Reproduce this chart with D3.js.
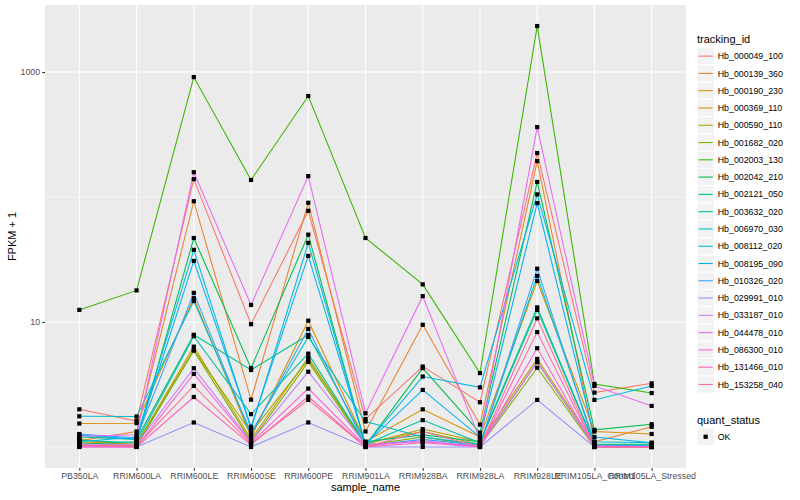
<!DOCTYPE html>
<html><head><meta charset="utf-8">
<script src="https://cdn.jsdelivr.net/npm/d3@7"></script>
<style>body{margin:0;background:#fff}svg{display:block}text{font-family:"Liberation Sans",Arial,Helvetica,sans-serif}</style>
</head><body><svg id="c" width="800" height="500"></svg>
<script>
const samples = ["PB350LA","RRIM600LA","RRIM600LE","RRIM600SE","RRIM600PE","RRIM901LA","RRIM928BA","RRIM928LA","RRIM928LE","RRIM105LA_Control","RRIM105LA_Stressed"];
const trackingIds = ["Hb_000049_100","Hb_000139_360","Hb_000190_230","Hb_000369_110","Hb_000590_110","Hb_001682_020","Hb_002003_130","Hb_002042_210","Hb_002121_050","Hb_003632_020","Hb_006970_030","Hb_008112_020","Hb_008195_090","Hb_010326_020","Hb_029991_010","Hb_033187_010","Hb_044478_010","Hb_086300_010","Hb_131466_010","Hb_153258_040"];
const colors = ["#F8766D","#EA8331","#D89000","#C09B00","#A3A500","#7CAE00","#39B600","#00BB4E","#00BF7D","#00C1A3","#00BFC4","#00BAE0","#00B0F6","#35A2FF","#9590FF","#C77CFF","#E76BF3","#FA62DB","#FF62BC","#FF6C91"];
// FPKM + 1 per tracking_id, in sample order
const v000049 = [2.0, 1.61, 139, 9.6, 77.6, 1.67, 4.4, 2.28, 225, 2.72, 3.23];
const v000139 = [1.12, 1.33, 92.6, 2.39, 90, 1.33, 9.5, 1.51, 194, 1.1, 1.45];
const v000190 = [1.54, 1.55, 15.5, 1.2, 10.25, 1.1, 2.0, 1.2, 21.3, 1.33, 1.27];
const v000369 = [1.1, 1.05, 6.35, 1.15, 5.18, 1.05, 1.39, 1.1, 5.06, 1.05, 1.02];
const v000590 = [1.15, 1.03, 5.97, 1.3, 5.0, 1.08, 1.33, 1.05, 4.76, 1.02, 1.0];
const v001682 = [1.08, 1.02, 5.9, 1.1, 4.79, 1.03, 1.2, 1.02, 4.3, 1.0, 1.0];
const v002003 = [12.5, 17.9, 912, 137, 643, 47, 20, 3.9, 2335, 3.19, 2.7];
const v002042 = [1.05, 1.1, 47, 4.27, 50, 1.03, 4.27, 1.3, 132, 1.37, 1.52];
const v002121 = [1.2, 1.15, 7.9, 4.13, 7.87, 1.1, 1.25, 1.1, 13.1, 1.05, 1.05];
const v003632 = [1.13, 1.08, 7.7, 1.83, 5.58, 1.05, 1.64, 1.08, 12.5, 1.04, 1.03];
const v006970 = [1.76, 1.75, 14.7, 1.3, 7.6, 1.6, 1.2, 1.05, 23.4, 1.1, 1.08];
const v008112 = [1.1, 1.2, 37.8, 1.4, 43, 1.04, 3.66, 3.0, 105, 2.38, 3.08];
const v008195 = [1.25, 1.15, 30.8, 1.45, 33.8, 1.05, 2.86, 1.2, 89.5, 1.2, 1.08];
const v010326 = [1.27, 1.18, 17.1, 1.25, 8.8, 1.02, 1.15, 1.03, 26.7, 1.03, 1.02];
const v029991 = [1.0, 1.0, 1.57, 1.0, 1.57, 1.0, 1.0, 1.0, 2.38, 1.0, 1.0];
const v033187 = [1.05, 1.05, 4.27, 1.1, 4.0, 1.05, 1.1, 1.02, 4.8, 1.02, 1.0];
const v044478 = [1.22, 1.25, 158, 13.7, 147, 1.86, 16.1, 1.15, 363, 3.08, 2.13];
const v086300 = [1.02, 1.0, 3.84, 1.08, 2.93, 1.02, 1.12, 1.0, 6.17, 1.0, 1.0];
const v131466 = [1.0, 1.0, 2.51, 1.04, 2.53, 1.0, 1.08, 1.0, 8.3, 1.0, 1.0];
const v153258 = [1.03, 1.02, 3.08, 1.06, 2.38, 1.0, 1.33, 1.0, 10.7, 1.0, 1.0];
const values = [v000049,v000139,v000190,v000369,v000590,v001682,v002003,v002042,v002121,v003632,v006970,v008112,v008195,v010326,v029991,v033187,v044478,v086300,v131466,v153258];
const yMajor = [10, 1000];
const yMinor = [1, 100];
const quantStatus = ["OK"];

const svg = d3.select("#c");
const P = {l:45, r:686, t:5, b:468};
const allV = values.flat();
const lmin = Math.log10(d3.min(allV)), lmax = Math.log10(d3.max(allV));
const pad = (lmax - lmin) * 0.05;
const y = d3.scaleLog().domain([10 ** (lmin - pad), 10 ** (lmax + pad)]).range([P.b, P.t]);
const x = d3.scalePoint().domain(samples).range([P.l, P.r]).padding(0.6);

svg.append("rect").attr("x",P.l).attr("y",P.t).attr("width",P.r-P.l).attr("height",P.b-P.t).attr("fill","#EBEBEB");
const g = svg.append("g");
g.selectAll(".mn").data(yMinor).join("line").attr("x1",P.l).attr("x2",P.r)
  .attr("y1",d=>y(d)).attr("y2",d=>y(d)).attr("stroke","#fff").attr("stroke-width",0.53);
g.selectAll(".mj").data(yMajor).join("line").attr("x1",P.l).attr("x2",P.r)
  .attr("y1",d=>y(d)).attr("y2",d=>y(d)).attr("stroke","#fff").attr("stroke-width",1.07);
g.selectAll(".vx").data(samples).join("line").attr("y1",P.t).attr("y2",P.b)
  .attr("x1",d=>x(d)).attr("x2",d=>x(d)).attr("stroke","#fff").attr("stroke-width",1.07);

const series = trackingIds.map((id,i)=>({id, color:colors[i], pts: samples.map((s,j)=>({s, v: values[i][j]}))}));
const line = d3.line().x(d=>x(d.s)).y(d=>y(d.v));
svg.append("g").selectAll("path").data(series).join("path")
  .attr("d",d=>line(d.pts)).attr("fill","none").attr("stroke",d=>d.color).attr("stroke-width",1.07);
svg.append("g").selectAll("rect").data(series.flatMap(d=>d.pts)).join("rect")
  .attr("x",d=>x(d.s)-2.1).attr("y",d=>y(d.v)-2.1).attr("width",4.2).attr("height",4.2).attr("fill","#000");

// Axes
const yAxis = d3.axisLeft(y).tickValues(yMajor).tickFormat(d3.format("d")).tickSize(2.75).tickPadding(2.2);
const ya = svg.append("g").attr("transform",`translate(${P.l},0)`).call(yAxis);
const xAxis = d3.axisBottom(x).tickSize(2.75).tickPadding(2.2);
const xa = svg.append("g").attr("transform",`translate(0,${P.b})`).call(xAxis);
[ya,xa].forEach(a=>{
  a.select(".domain").remove();
  a.selectAll(".tick line").attr("stroke","#333").attr("stroke-width",1.07);
  a.selectAll(".tick text").attr("fill","#4D4D4D").style("font-size","8.8px");
});
svg.append("text").attr("x",(P.l+P.r)/2).attr("y",491).attr("text-anchor","middle").style("font-size","11px").attr("fill","#000").text("sample_name");
svg.append("text").attr("transform",`translate(16,${(P.t+P.b)/2}) rotate(-90)`).attr("text-anchor","middle").style("font-size","11px").attr("fill","#000").text("FPKM + 1");

// Legend
const L = svg.append("g");
const lx = 697, ky0 = 47.5, kh = 17.28, kw = 17.28;
L.append("text").attr("x",lx).attr("y",42.5).style("font-size","11px").text("tracking_id");
const items = L.selectAll(".it").data(series).join("g").attr("transform",(d,i)=>`translate(${lx},${ky0+i*kh})`);
items.append("rect").attr("width",kw).attr("height",kh).attr("fill","#F2F2F2").attr("stroke","#fff").attr("stroke-width",1);
items.append("line").attr("x1",1.5).attr("x2",kw-1.5).attr("y1",kh/2).attr("y2",kh/2).attr("stroke",d=>d.color).attr("stroke-width",1.07);
items.append("text").attr("x",kw+3.5).attr("y",kh/2+3.1).style("font-size","8.8px").attr("fill","#000").text(d=>d.id);
const qy = ky0 + trackingIds.length*kh;
L.append("text").attr("x",lx).attr("y",qy+ 30.5).style("font-size","11px").text("quant_status");
const q = L.selectAll(".q").data(quantStatus).join("g").attr("transform",`translate(${lx},${qy+35})`);
q.append("rect").attr("width",kw).attr("height",kh).attr("fill","#F2F2F2").attr("stroke","#fff");
q.append("rect").attr("x",kw/2-2.1).attr("y",kh/2-2.1).attr("width",4.2).attr("height",4.2).attr("fill","#000");
q.append("text").attr("x",kw+3.5).attr("y",kh/2+3.1).style("font-size","8.8px").text(d=>d);
</script></body></html>
